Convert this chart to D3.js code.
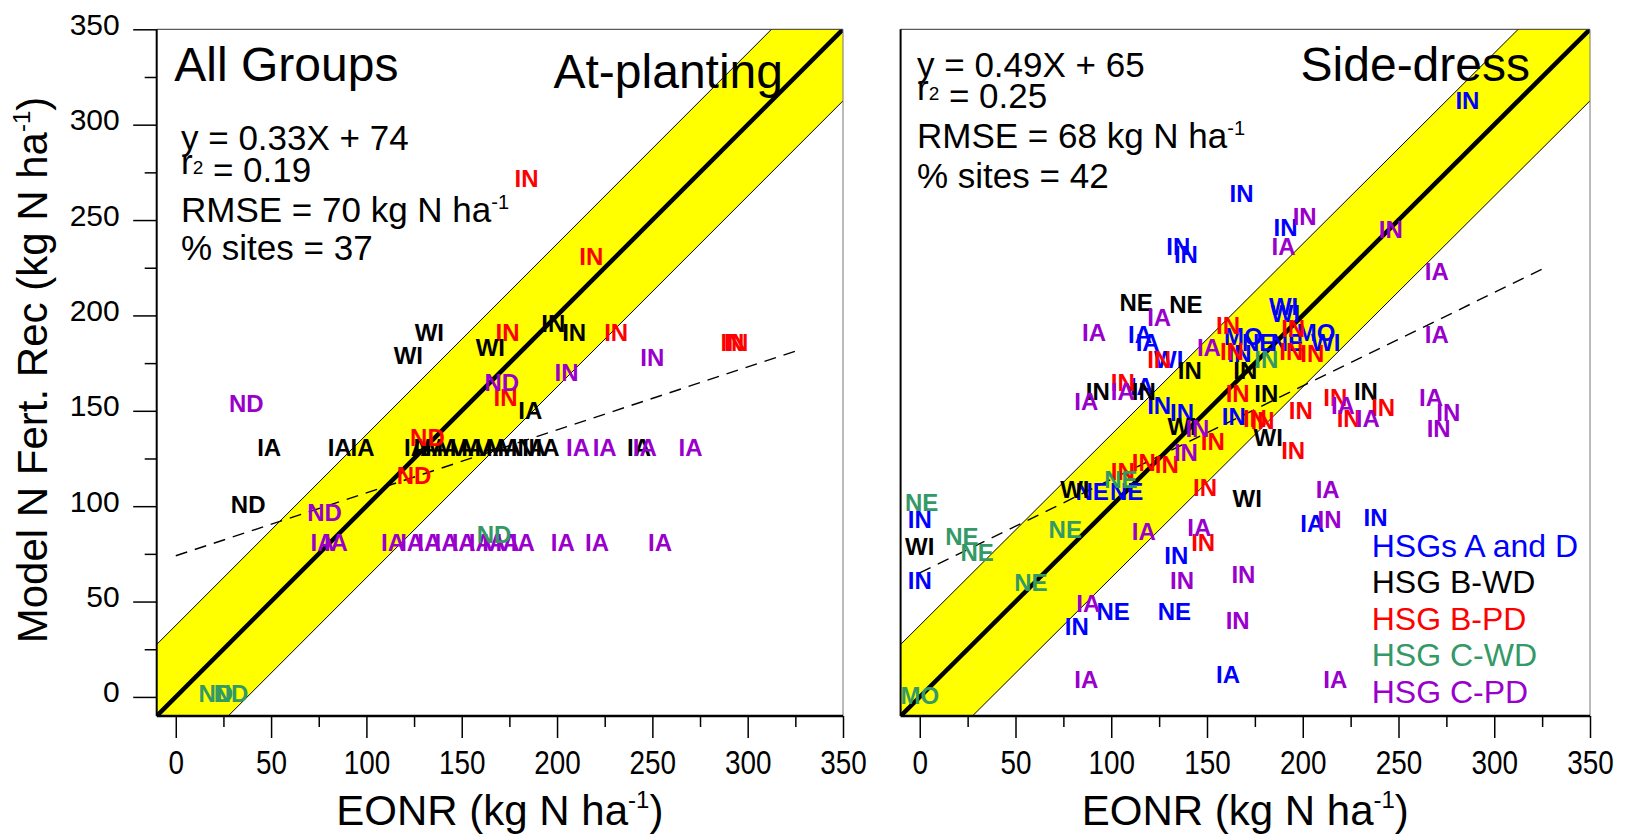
<!DOCTYPE html>
<html>
<head>
<meta charset="utf-8">
<script src="https://cdn.jsdelivr.net/npm/d3@7"></script>
<style>
  body { margin: 0; background: #fff; }
  text { font-family: "Liberation Sans", Arial, sans-serif; }
</style>
</head>
<body>
<svg id="chart" width="1627" height="840"></svg>
<script>
// soil hydrologic groups
const groupNames = ["HSGs A and D", "HSG B-WD", "HSG B-PD", "HSG C-WD", "HSG C-PD"];
const groupColors = ["#0000ff", "#000000", "#ff0000", "#339966", "#9900cc"];

const majorTicks = [0, 50, 100, 150, 200, 250, 300, 350];
const minorTicks = [25, 75, 125, 175, 225, 275, 325];

// [EONR, model rec, site, group]
const atPlanting = [
  [184, 272, "IN", 2], [218, 231, "IN", 2], [174, 191, "IN", 2], [231, 191, "IN", 2],
  [292, 186, "IN", 2], [294, 186, "IN", 2], [173, 157, "IN", 2],
  [133, 191, "WI", 1], [122, 179, "WI", 1], [165, 183, "WI", 1], [198, 196, "IN", 1], [209, 191, "IN", 1],
  [186, 150, "IA", 1], [49, 131, "IA", 1], [86, 131, "IA", 1], [98, 131, "IA", 1],
  [126, 131, "IA", 1], [131, 131, "IA", 1], [137, 131, "IA", 1], [143, 131, "IA", 1], [150, 131, "IA", 1],
  [156, 131, "IA", 1], [163, 131, "IA", 1], [169, 131, "IA", 1], [175, 131, "IA", 1], [182, 131, "IN", 1],
  [188, 131, "IA", 1], [195, 131, "IA", 1], [243, 131, "IA", 1], [38, 101, "ND", 1],
  [37, 154, "ND", 4], [171, 165, "ND", 4], [205, 170, "IN", 4], [250, 178, "IN", 4],
  [211, 131, "IA", 4], [225, 131, "IA", 4], [246, 131, "IA", 4], [270, 131, "IA", 4],
  [78, 97, "ND", 4],
  [77, 81, "IA", 4], [84, 81, "IA", 4], [114, 81, "IA", 4], [124, 81, "IA", 4], [133, 81, "IA", 4],
  [142, 81, "IA", 4], [151, 81, "IA", 4], [160, 81, "IA", 4], [167, 81, "IA", 4], [174, 81, "IA", 4],
  [182, 81, "IA", 4], [203, 81, "IA", 4], [221, 81, "IA", 4], [254, 81, "IA", 4],
  [167, 85, "ND", 3], [21, 2, "ND", 3], [29, 2, "ND", 3],
  [132, 136, "ND", 2], [125, 116, "ND", 2]
];

const sideDress = [
  [286, 313, "IN", 0], [168, 264, "IN", 0], [191, 246, "IN", 0], [135, 236, "IN", 0], [139, 232, "IN", 0],
  [115, 190, "IA", 0], [119, 186, "IA", 0], [190, 205, "WI", 0], [191, 201, "WI", 0],
  [169, 189, "MO", 0], [177, 186, "NE", 0], [167, 180, "IN", 0], [192, 186, "NE", 0], [207, 191, "MO", 0],
  [212, 186, "WI", 0], [130, 177, "WI", 0], [116, 163, "IA", 0], [125, 153, "IN", 0], [137, 149, "IN", 0],
  [164, 147, "IN", 0], [90, 108, "NE", 0], [108, 108, "NE", 0], [134, 74, "IN", 0], [205, 91, "IA", 0],
  [238, 94, "IN", 0], [0, 93, "IN", 0], [0, 61, "IN", 0], [101, 45, "NE", 0], [133, 45, "NE", 0],
  [82, 37, "IN", 0], [161, 12, "IA", 0],
  [113, 207, "NE", 1], [139, 206, "NE", 1], [141, 171, "IN", 1], [170, 171, "IN", 1], [93, 160, "IN", 1],
  [117, 160, "IN", 1], [181, 159, "IN", 1], [233, 160, "IN", 1], [137, 142, "WI", 1], [182, 136, "WI", 1],
  [81, 109, "WI", 1], [171, 104, "WI", 1], [0, 79, "WI", 1],
  [161, 195, "IN", 2], [163, 181, "IN", 2], [195, 193, "IN", 2], [194, 181, "IN", 2], [205, 180, "IN", 2],
  [125, 177, "IN", 2], [106, 165, "IN", 2], [166, 159, "IN", 2], [199, 150, "IN", 2], [217, 157, "IN", 2],
  [242, 152, "IN", 2], [224, 146, "IN", 2], [175, 146, "IN", 2], [179, 145, "IN", 2], [153, 134, "IN", 2],
  [117, 123, "IN", 2], [129, 122, "IN", 2], [106, 118, "IN", 2], [149, 110, "IN", 2], [195, 129, "IN", 2],
  [148, 81, "IN", 2],
  [181, 177, "IN", 3], [105, 114, "NE", 3], [1, 102, "NE", 3], [22, 84, "NE", 3], [30, 76, "NE", 3],
  [76, 88, "NE", 3], [58, 60, "NE", 3], [0, 1, "MO", 3],
  [201, 252, "IN", 4], [190, 236, "IA", 4], [246, 245, "IN", 4], [270, 223, "IA", 4], [125, 199, "IA", 4],
  [91, 191, "IA", 4], [270, 190, "IA", 4], [151, 183, "IA", 4], [106, 160, "IA", 4], [87, 155, "IA", 4],
  [221, 153, "IA", 4], [234, 146, "IA", 4], [267, 157, "IA", 4], [276, 149, "IN", 4], [271, 141, "IN", 4],
  [145, 141, "IN", 4], [139, 128, "IN", 4], [213, 109, "IA", 4], [214, 93, "IN", 4], [117, 87, "IA", 4],
  [146, 89, "IA", 4], [137, 61, "IN", 4], [169, 64, "IN", 4], [88, 49, "IA", 4], [166, 40, "IN", 4],
  [87, 9, "IA", 4], [217, 9, "IA", 4]
];

const panelTitles = ["At-planting", "Side-dress"];
const fitSlopes = [0.33, 0.49];
const fitIntercepts = [74, 65];
const fitEnd = 325;
const r2Values = ["0.19", "0.25"];
const rmseValues = [70, 68];
const sitesPct = [37, 42];
const bandHalf = 37.5;

const svg = d3.select("#chart");
const yRange = [716, 29.3];

function drawPanel(i, data, x0, x1) {
  const x = d3.scaleLinear().domain([-10, 350]).range([x0, x1]);
  const y = d3.scaleLinear().domain([-10, 350]).range(yRange);
  const g = svg.append("g");

  g.append("clipPath").attr("id", "clip" + i)
    .append("rect")
    .attr("x", x0).attr("y", yRange[1])
    .attr("width", x1 - x0).attr("height", yRange[0] - yRange[1]);

  const plot = g.append("g").attr("clip-path", `url(#clip${i})`);
  const line = d3.line().x(d => x(d[0])).y(d => y(d[1]));

  // yellow +/- band around the 1:1 line
  plot.append("path")
    .attr("d", line([[-100, -100 + bandHalf], [450, 450 + bandHalf], [450, 450 - bandHalf], [-100, -100 - bandHalf]]) + "Z")
    .attr("fill", "#ffff00");
  [bandHalf, -bandHalf].forEach(o => {
    plot.append("path")
      .attr("d", line([[-100, -100 + o], [450, 450 + o]]))
      .attr("stroke", "#000").attr("stroke-width", 1).attr("fill", "none");
  });

  // site labels
  g.selectAll("text.site")
    .data(data)
    .join("text")
    .attr("class", "site")
    .attr("x", d => x(d[0]))
    .attr("y", d => y(d[1]))
    .attr("dy", "0.36em")
    .attr("text-anchor", "middle")
    .attr("font-weight", "bold")
    .attr("font-size", 24)
    .attr("fill", d => groupColors[d[3]])
    .text(d => d[2]);

  // 1:1 line and regression
  plot.append("path")
    .attr("d", line([[-10, -10], [350, 350]]))
    .attr("stroke", "#000").attr("stroke-width", 4.5).attr("fill", "none");
  plot.append("path")
    .attr("d", line([[0, fitIntercepts[i]], [fitEnd, fitEnd * fitSlopes[i] + fitIntercepts[i]]]))
    .attr("stroke", "#000").attr("stroke-width", 1.4)
    .attr("stroke-dasharray", "12,8").attr("fill", "none");

  // frame
  g.append("line").attr("x1", x0).attr("x2", x1).attr("y1", yRange[1]).attr("y2", yRange[1])
    .attr("stroke", "#333").attr("stroke-width", 1);
  g.append("line").attr("x1", x1).attr("x2", x1).attr("y1", yRange[1]).attr("y2", yRange[0])
    .attr("stroke", "#777").attr("stroke-width", 1);
  g.append("line").attr("x1", x0).attr("x2", x0).attr("y1", yRange[1]).attr("y2", yRange[0])
    .attr("stroke", "#000").attr("stroke-width", 2);
  g.append("line").attr("x1", x0).attr("x2", x1).attr("y1", yRange[0]).attr("y2", yRange[0])
    .attr("stroke", "#000").attr("stroke-width", 2.5);

  // x axis
  const xAx = g.append("g").attr("transform", `translate(0,${yRange[0]})`)
    .call(d3.axisBottom(x).tickValues(majorTicks).tickSize(22));
  xAx.append("g").call(d3.axisBottom(x).tickValues(minorTicks).tickSize(11).tickFormat(""));
  xAx.selectAll(".domain").remove();
  xAx.selectAll("line").attr("stroke", "#000").attr("stroke-width", 1.5);
  xAx.selectAll("text")
    .attr("y", 58).attr("dy", null)
    .attr("font-size", 34).attr("fill", "#000")
    .attr("font-family", "'Liberation Sans', Arial, sans-serif")
    .attr("transform", "scale(0.82,1)");

  if (i === 0) {
    const yAx = g.append("g").attr("transform", `translate(${x0},0)`)
      .call(d3.axisLeft(y).tickValues(majorTicks).tickSize(23.5));
    yAx.append("g").call(d3.axisLeft(y).tickValues(minorTicks).tickSize(12).tickFormat(""));
    yAx.selectAll(".domain").remove();
    yAx.selectAll("line").attr("stroke", "#000").attr("stroke-width", 1.5);
    yAx.selectAll("text")
      .attr("x", -37).attr("dy", null).attr("y", 5)
      .attr("font-size", 30).attr("fill", "#000")
      .attr("font-family", "'Liberation Sans', Arial, sans-serif");
  }

  // axis title
  const xt = g.append("text")
    .attr("x", (x0 + x1) / 2).attr("y", 825)
    .attr("text-anchor", "middle").attr("font-size", 42);
  xt.append("tspan").text("EONR (kg N ha");
  xt.append("tspan").attr("font-size", 24).attr("dy", -17).text("-1");
  xt.append("tspan").attr("dy", 17).text(")");

  // panel title
  g.append("text")
    .attr("x", x1 - 60).attr("y", i === 0 ? 88 : 81)
    .attr("text-anchor", "end").attr("font-size", 48)
    .text(panelTitles[i]);

  // regression stats
  const sx = i === 0 ? 181 : 917;
  const base = i === 0 ? [150, 181.7, 221.7, 260] : [76.7, 108.3, 148.3, 188.3];
  const st = g.append("g").attr("font-size", 35);
  st.append("text").attr("x", sx).attr("y", base[0])
    .text(`y = ${fitSlopes[i]}X + ${fitIntercepts[i]}`);
  const r2 = st.append("text").attr("x", sx).attr("y", base[1]);
  r2.append("tspan").attr("dy", -8).text("r");
  r2.append("tspan").attr("font-size", 19).text("2");
  r2.append("tspan").attr("dy", 8).text(` = ${r2Values[i]}`);
  const rm = st.append("text").attr("x", sx).attr("y", base[2]);
  rm.append("tspan").text(`RMSE = ${rmseValues[i]} kg N ha`);
  rm.append("tspan").attr("font-size", 20).attr("dy", -13).text("-1");
  st.append("text").attr("x", sx).attr("y", base[3]).text(`% sites = ${sitesPct[i]}`);

  return { x, y };
}

drawPanel(0, atPlanting, 156.7, 843);
drawPanel(1, sideDress, 900.6, 1590);

svg.append("text")
  .attr("x", 0).attr("y", 0)
  .attr("transform", "translate(47,370) rotate(-90)")
  .attr("text-anchor", "middle").attr("font-size", 42)
  .call(t => {
    t.append("tspan").text("Model N Fert. Rec (kg N ha");
    t.append("tspan").attr("font-size", 24).attr("dy", -17).text("-1");
    t.append("tspan").attr("dy", 17).text(")");
  });

svg.append("text").attr("x", 174.3).attr("y", 81).attr("font-size", 48).text("All Groups");

// legend
svg.append("g").selectAll("text")
  .data(groupNames)
  .join("text")
  .attr("x", 1371.7)
  .attr("y", (d, k) => 557 + k * 36.4)
  .attr("font-size", 32)
  .attr("fill", (d, k) => groupColors[k])
  .text(d => d);
</script>
</body>
</html>
